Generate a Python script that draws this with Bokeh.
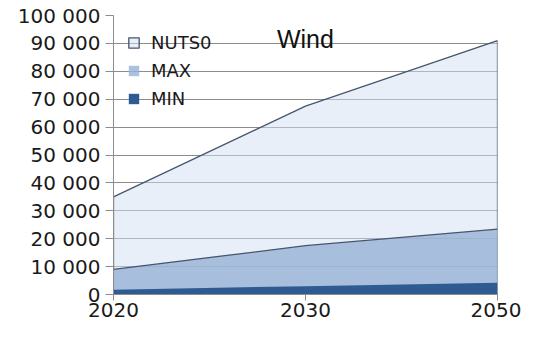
from bokeh.plotting import figure
from bokeh.models import FixedTicker, Label, Legend, LegendItem
from bokeh.embed import file_html
from bokeh.resources import INLINE

# ---- data ----
years = ["2020", "2030", "2050"]
nuts0 = [35000, 67500, 91000]
max_v = [9000, 17500, 23400]
min_v = [1700, 3000, 4200]
series_names = ["NUTS0", "MAX", "MIN"]
y_ticks = [0, 10000, 20000, 30000, 40000, 50000, 60000, 70000, 80000, 90000, 100000]
y_tick_labels = ["0", "10 000", "20 000", "30 000", "40 000", "50 000",
                 "60 000", "70 000", "80 000", "90 000", "100 000"]
chart_label = "Wind"

xs = list(range(len(years)))

p = figure(width=521, height=322, x_range=(0, len(years) - 1), y_range=(0, 100000),
           output_backend="svg", toolbar_location=None,
           min_border_left=113, min_border_right=24, min_border_top=15, min_border_bottom=28)
p.outline_line_color = None
p.background_fill_color = "white"
p.xgrid.visible = False
p.ygrid.ticker = FixedTicker(ticks=y_ticks)
p.ygrid.grid_line_color = "#8c8c8c"
p.ygrid.grid_line_width = 1

edge = "#46566e"
r_n = p.patch(xs + [xs[-1], xs[0]], nuts0 + [0, 0], fill_color="#d3dff2", fill_alpha=0.5,
              line_color=edge, line_width=1.3)
r_m = p.varea(x=xs, y1=[0] * len(xs), y2=max_v, fill_color="#96b3d6", fill_alpha=0.8)
p.line(xs, max_v, line_color=edge, line_width=1.3)
r_min = p.varea(x=xs, y1=[0] * len(xs), y2=min_v, fill_color="#2f5b93", fill_alpha=1.0)

legend = Legend(items=[LegendItem(label=series_names[0], renderers=[r_n]),
                       LegendItem(label=series_names[1], renderers=[r_m]),
                       LegendItem(label=series_names[2], renderers=[r_min])],
                location="top_left")
legend.background_fill_alpha = 0
legend.border_line_color = None
legend.label_text_font = "DejaVu Sans"
legend.label_text_font_size = "18px"
legend.label_text_color = "#1a1a1a"
legend.glyph_width = 13
legend.glyph_height = 13
legend.label_standoff = 11
legend.spacing = 2
legend.label_height = 26
legend.margin = 14
legend.padding = 9
p.add_layout(legend)

p.add_layout(Label(x=0.851, y=91660, text=chart_label, text_font="Liberation Sans",
                   text_font_size="25px", text_baseline="alphabetic", text_color="#111111"))

for ax in (p.xaxis[0], p.yaxis[0]):
    ax.axis_line_color = "#8c8c8c"
    ax.major_tick_line_color = "#8c8c8c"
    ax.minor_tick_line_color = None
    ax.major_tick_in = 0
    ax.major_label_text_font = "DejaVu Sans"
    ax.major_label_text_font_size = "20px"
    ax.major_label_text_color = "#1a1a1a"

p.yaxis.ticker = FixedTicker(ticks=y_ticks)
p.yaxis.major_label_overrides = {t: s for t, s in zip(y_ticks, y_tick_labels)}
p.yaxis.major_tick_out = 8
p.yaxis.major_label_standoff = 5

p.xaxis.ticker = FixedTicker(ticks=xs)
p.xaxis.major_label_overrides = {i: y for i, y in zip(xs, years)}
p.xaxis.major_tick_out = 6
p.xaxis.major_label_standoff = 2

open("out.html", "w").write(file_html(p, INLINE))
